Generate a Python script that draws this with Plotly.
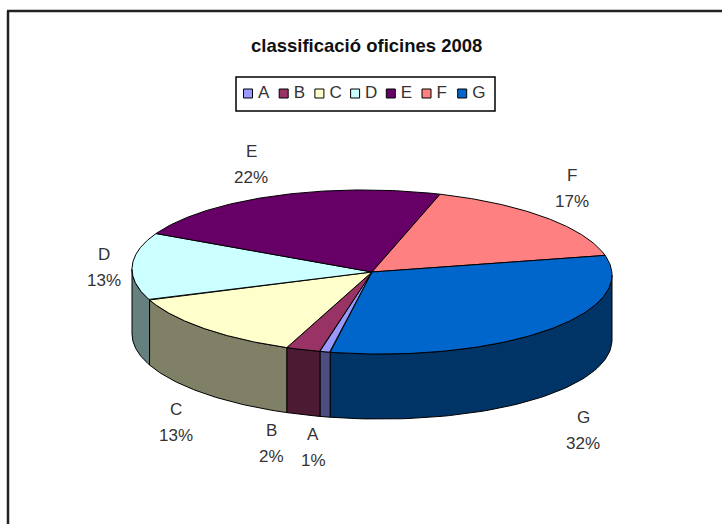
import numpy as np
import plotly.graph_objects as go

categories = ["A", "B", "C", "D", "E", "F", "G"]
values = [0.7, 2.3, 13.1, 13.3, 22.4, 16.6, 31.6]
percent_labels = ["1%", "2%", "13%", "13%", "22%", "17%", "32%"]
top_colors = ["#9999FF", "#993366", "#FFFFCC", "#CCFFFF", "#660066", "#FF8080", "#0066CC"]
side_colors = ["#4D4D80", "#4D1A33", "#808066", "#668080", "#330033", "#804040", "#003366"]

# projection of the tilted disc in page pixels
CX, CY, RX, RY, SHEAR, DEPTH = 372, 272, 240, 82, -3, 65
START_DEG = -100.0  # where the first slice starts; slices run clockwise on screen

LABEL_XY = {"A": (313, 447), "B": (271, 443), "C": (176, 422), "D": (104, 267),
            "E": (251, 164), "F": (572, 188), "G": (583, 430)}


def rim(theta_deg, drop=0):
    t = np.radians(theta_deg)
    return CX + RX * np.cos(t), CY - RY * np.sin(t) - SHEAR * np.cos(t) + drop


fig = go.Figure()
fractions = np.array(values) / sum(values) * 360
ends = START_DEG - np.cumsum(fractions)
starts = ends + fractions
line = dict(color="#000000", width=1)


def add_poly(x, y, color):
    fig.add_trace(go.Scatter(x=x, y=y, mode="lines", fill="toself", fillcolor=color,
                             line=line, hoverinfo="skip", showlegend=False))


# walls: only the front half of the rim shows
for k in range(0, 2):
    for hi, lo, col in zip(starts + 360 * k, ends + 360 * k, side_colors):
        a, b = min(hi, 0), max(lo, -180)
        if a <= b:
            continue
        th = np.linspace(a, b, 60)
        x0, y0 = rim(th)
        x1, y1 = rim(th[::-1], DEPTH)
        add_poly(np.r_[x0, x1, x0[0]], np.r_[y0, y1, y0[0]], col)

# top face
for hi, lo, col in zip(starts, ends, top_colors):
    th = np.linspace(hi, lo, 120)
    x, y = rim(th)
    add_poly(np.r_[CX, x, CX], np.r_[CY, y, CY], col)

# legend, drawn as its own small key because the native key cannot be this tight
key_x = [248 + 35.7 * i for i in range(len(categories))]
fig.add_trace(go.Scatter(
    x=key_x, y=[93.5] * len(categories), mode="markers+text",
    marker=dict(symbol="square", size=9, color=top_colors, line=dict(color="#000000", width=1)),
    text=["\u2009" + c for c in categories], textposition="middle right",
    textfont=dict(size=17, color="#333333"),
    hoverinfo="skip", showlegend=False))

annotations = [dict(x=366, y=45, xref="x", yref="y", text="<b>classificació oficines 2008</b>",
                    showarrow=False, font=dict(size=18.5, color="#111111"))]
for cat, pct in zip(categories, percent_labels):
    lx, ly = LABEL_XY[cat]
    for dy, txt in ((-13, cat), (13, pct)):
        annotations.append(dict(x=lx, y=ly + dy, xref="x", yref="y", text=txt, showarrow=False,
                                font=dict(size=17, color="#333333")))

fig.update_layout(
    width=722, height=524, margin=dict(l=0, r=0, t=0, b=0),
    paper_bgcolor="#FFFFFF", plot_bgcolor="#FFFFFF",
    font=dict(family="Liberation Sans, Arial, sans-serif"),
    xaxis=dict(range=[0, 722], visible=False, fixedrange=True),
    yaxis=dict(range=[524, 0], visible=False, fixedrange=True),
    annotations=annotations,
    shapes=[
        dict(type="rect", x0=236, y0=77, x1=495, y1=111, xref="x", yref="y", layer="below",
             line=dict(color="#000000", width=1.5), fillcolor="#FFFFFF"),
        dict(type="line", x0=8, y0=11, x1=8, y1=524, xref="x", yref="y", layer="below",
             line=dict(color="#222222", width=2.5)),
        dict(type="line", x0=7, y0=11, x1=722, y1=11, xref="x", yref="y", layer="below",
             line=dict(color="#222222", width=2.5)),
    ],
)
fig.write_html("out.html", config={"displayModeBar": False},
               post_script="document.body.style.margin='0';")
